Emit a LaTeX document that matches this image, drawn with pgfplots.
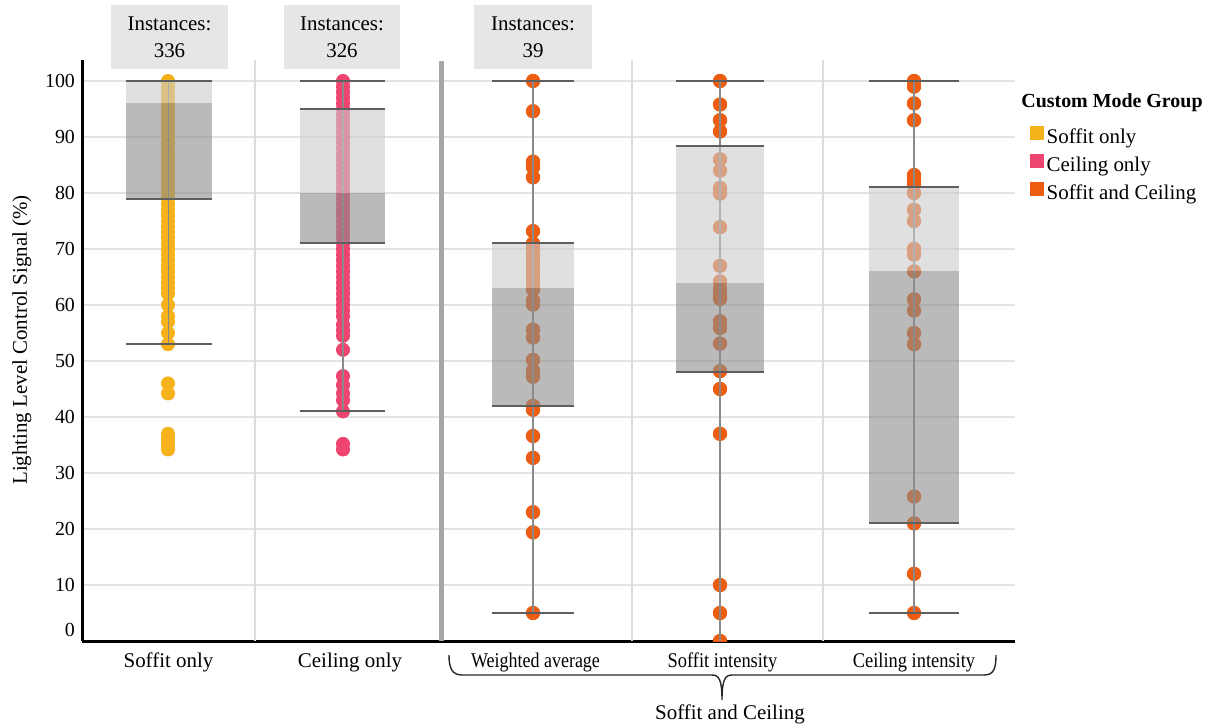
\documentclass[border=0pt]{standalone}
\usepackage{pgfplots}
\pgfplotsset{compat=1.18}
\usepackage{fontspec}
\setmainfont{Liberation Serif}
\usepackage{graphicx}
\definecolor{cSoffit}{HTML}{F5B21A}
\definecolor{cCeil}{HTML}{EE4470}
\definecolor{cBoth}{HTML}{EC5D12}
\definecolor{gridc}{HTML}{E3E3E3}
\definecolor{sepc}{HTML}{DCDCDC}
\definecolor{thicksep}{HTML}{AAA5A5}
\definecolor{instc}{HTML}{E6E6E6}
\definecolor{whisk}{HTML}{8A8A8A}
\definecolor{capc}{HTML}{5F5F5F}
\begin{document}
\begin{tikzpicture}
\begin{axis}[
  scale only axis, width=466.5bp, height=290.5bp,
  xmin=82, xmax=1015, ymin=0, ymax=103.75,
  axis x line*=bottom, axis y line*=left,
  axis line style={line width=1.5bp, black, -},
  xtick=\empty,
  ytick={10,20,...,100},
  extra y ticks={0},
  extra y tick style={grid=none, yticklabel style={yshift=5.5bp}},
  ymajorgrids, major grid style={gridc, line width=0.7bp},
  major tick length=0,
  tick label style={font=\fontsize{10}{12}\selectfont},
  /pgf/number format/assume math mode=true,
  clip marker paths=true,
  legend cell align=left,
  legend image code/.code={\fill[#1] (0bp,-0.75bp) rectangle (6.5bp,5.75bp);},
  legend style={at={(1.0155,0.888)}, anchor=north west, draw=none, fill=none,
    font=\fontsize{10.5}{12}\selectfont, row sep=1.2bp, inner sep=0pt,
    nodes={inner sep=1.5bp, text height=7.4bp, text depth=2.4bp}},
]
\addlegendimage{cSoffit}\addlegendentry{Soffit only}
\addlegendimage{cCeil}\addlegendentry{Ceiling only}
\addlegendimage{cBoth}\addlegendentry{Soffit and Ceiling}

% separators
\addplot[forget plot, sepc, line width=0.6bp] coordinates {(255,0) (255,103.75)};
\addplot[forget plot, sepc, line width=0.6bp] coordinates {(632,0) (632,103.75)};
\addplot[forget plot, sepc, line width=0.6bp] coordinates {(823,0) (823,103.75)};
\addplot[forget plot, thicksep, line width=2.2bp] coordinates {(441.5,0) (441.5,103.6)};

% points
\addplot[forget plot, only marks, mark=*, mark size=3.3bp, cSoffit] coordinates {
(168,100) (168,99) (168,98) (168,97) (168,96) (168,95) (168,94) (168,93) (168,92) (168,91)
(168,90) (168,89) (168,88) (168,87) (168,86) (168,85) (168,84) (168,83) (168,82) (168,81)
(168,80) (168,79) (168,78) (168,77) (168,76) (168,75) (168,74) (168,73) (168,72) (168,71)
(168,70) (168,69) (168,68) (168,67) (168,66) (168,65) (168,64) (168,63) (168,62)
(168,60) (168,58) (168,57) (168,55) (168,53) (168,46) (168,44.2) (168,37) (168,36) (168,35) (168,34.2)};
\addplot[forget plot, only marks, mark=*, mark size=3.3bp, cCeil] coordinates {
(343,100) (343,99) (343,98) (343,97) (343,96) (343,95) (343,94) (343,93) (343,92) (343,91)
(343,90) (343,89) (343,88) (343,87) (343,86) (343,85) (343,84) (343,83) (343,82) (343,81)
(343,80) (343,79) (343,78) (343,77) (343,76) (343,75) (343,74) (343,73) (343,72) (343,71)
(343,70) (343,69) (343,68) (343,67) (343,66) (343,65) (343,64) (343,63) (343,62) (343,61)
(343,60) (343,59) (343,58) (343,56.5) (343,55.5) (343,54.5) (343,52) (343,47.3) (343,45.7)
(343,44.2) (343,43) (343,41) (343,35.2) (343,34.2)};
\addplot[forget plot, only marks, mark=*, mark size=3.4bp, cBoth] coordinates {
(533,100) (533,94.6) (533,85.6) (533,84.6) (533,82.8) (533,73.2) (533,71) (533,70) (533,69)
(533,68) (533,67) (533,66) (533,65) (533,64) (533,62.8) (533,60.8) (533,60.1) (533,55.6)
(533,54.2) (533,50.2) (533,48.3) (533,47.2) (533,42) (533,41.3) (533,36.6) (533,32.7)
(533,23) (533,19.4) (533,5)};
\addplot[forget plot, only marks, mark=*, mark size=3.4bp, cBoth] coordinates {
(720,100) (720,95.8) (720,93) (720,91) (720,86) (720,84) (720,80.9) (720,79.9) (720,73.9)
(720,67) (720,64.2) (720,62.8) (720,61.8) (720,61.1) (720,57.1) (720,55.9) (720,53.1)
(720,48.2) (720,45) (720,37) (720,10) (720,5) (720,0)};
\addplot[forget plot, only marks, mark=*, mark size=3.4bp, cBoth] coordinates {
(914,100) (914,99) (914,96) (914,93) (914,83.2) (914,82.4) (914,81.6) (914,80) (914,77)
(914,75) (914,70) (914,69) (914,66) (914,61) (914,59) (914,55) (914,53) (914,25.8)
(914,21) (914,12) (914,5)};

% whiskers
\addplot[forget plot, whisk, line width=0.9bp] coordinates {(168.5,53) (168.5,100)};
\addplot[forget plot, whisk, line width=0.9bp] coordinates {(343,41) (343,100)};
\addplot[forget plot, whisk, line width=0.9bp] coordinates {(533,5) (533,100)};
\addplot[forget plot, whisk, line width=0.9bp] coordinates {(720,0) (720,100)};
\addplot[forget plot, whisk, line width=0.9bp] coordinates {(914,5) (914,100)};

% boxes: light (median to Q3), dark (Q1 to median)
\addplot[forget plot, draw=none, fill=black!20, fill opacity=0.6] coordinates {(126,96) (212,96) (212,100) (126,100)};
\addplot[forget plot, draw=none, fill=black!45, fill opacity=0.6] coordinates {(126,79) (212,79) (212,96) (126,96)};
\addplot[forget plot, draw=none, fill=black!20, fill opacity=0.6] coordinates {(300,80) (385,80) (385,95) (300,95)};
\addplot[forget plot, draw=none, fill=black!45, fill opacity=0.6] coordinates {(300,71) (385,71) (385,80) (300,80)};
\addplot[forget plot, draw=none, fill=black!20, fill opacity=0.6] coordinates {(492,63) (574,63) (574,71) (492,71)};
\addplot[forget plot, draw=none, fill=black!45, fill opacity=0.6] coordinates {(492,42) (574,42) (574,63) (492,63)};
\addplot[forget plot, draw=none, fill=black!20, fill opacity=0.6] coordinates {(676,64) (764,64) (764,88.4) (676,88.4)};
\addplot[forget plot, draw=none, fill=black!45, fill opacity=0.6] coordinates {(676,48) (764,48) (764,64) (676,64)};
\addplot[forget plot, draw=none, fill=black!20, fill opacity=0.6] coordinates {(869,66) (959,66) (959,81) (869,81)};
\addplot[forget plot, draw=none, fill=black!45, fill opacity=0.6] coordinates {(869,21) (959,21) (959,66) (869,66)};

% caps and box edges
\addplot[forget plot, capc, line width=1bp] coordinates {(126,100) (212,100)};
\addplot[forget plot, capc, line width=1bp] coordinates {(126,79) (212,79)};
\addplot[forget plot, capc, line width=1bp] coordinates {(126,53) (212,53)};
\addplot[forget plot, capc, line width=1bp] coordinates {(300,100) (385,100)};
\addplot[forget plot, capc, line width=1bp] coordinates {(300,95) (385,95)};
\addplot[forget plot, capc, line width=1bp] coordinates {(300,71) (385,71)};
\addplot[forget plot, capc, line width=1bp] coordinates {(300,41) (385,41)};
\addplot[forget plot, capc, line width=1bp] coordinates {(492,100) (574,100)};
\addplot[forget plot, capc, line width=1bp] coordinates {(492,71) (574,71)};
\addplot[forget plot, capc, line width=1bp] coordinates {(492,42) (574,42)};
\addplot[forget plot, capc, line width=1bp] coordinates {(492,5) (574,5)};
\addplot[forget plot, capc, line width=1bp] coordinates {(676,100) (764,100)};
\addplot[forget plot, capc, line width=1bp] coordinates {(676,88.4) (764,88.4)};
\addplot[forget plot, capc, line width=1bp] coordinates {(676,48) (764,48)};
\addplot[forget plot, capc, line width=1bp] coordinates {(869,100) (959,100)};
\addplot[forget plot, capc, line width=1bp] coordinates {(869,81) (959,81)};
\addplot[forget plot, capc, line width=1bp] coordinates {(869,21) (959,21)};
\addplot[forget plot, capc, line width=1bp] coordinates {(869,5) (959,5)};

\coordinate (O) at (axis cs:0,114.4643);
\end{axis}
\begin{scope}[shift={(O)}, x=0.5bp, y=-0.5bp]
  \tikzset{lab/.style={font=\fontsize{10.5}{12}\selectfont}}
  \node[fill=instc, minimum width=58.5bp, minimum height=32bp, inner sep=0pt, align=center,
        font=\fontsize{10.5}{13.5}\selectfont] at (169.5,37) {Instances:\\336};
  \node[fill=instc, minimum width=58bp, minimum height=32bp, inner sep=0pt, align=center,
        font=\fontsize{10.5}{13.5}\selectfont] at (342,37) {Instances:\\326};
  \node[fill=instc, minimum width=59bp, minimum height=32bp, inner sep=0pt, align=center,
        font=\fontsize{10.5}{13.5}\selectfont] at (533,37) {Instances:\\39};
  \node[lab] at (168.5,662) {Soffit only};
  \node[lab] at (350,662) {Ceiling only};
  \node[lab] at (535.5,662) {\scalebox{0.86}[1]{Weighted average}};
  \node[lab] at (722.5,662) {\scalebox{0.88}[1]{Soffit intensity}};
  \node[lab] at (914,662) {\scalebox{0.88}[1]{Ceiling intensity}};
  \draw[line width=0.7bp, black!85] (449,655) .. controls (449,668) and (452,675) .. (462,675)
     -- (712,675) .. controls (719,675) and (722,680) .. (722,700)
     .. controls (722,680) and (725,675) .. (732,675) -- (984,675)
     .. controls (994,675) and (996,668) .. (996,655);
  \node[lab] at (730,714) {Soffit and Ceiling};
  \node[lab, rotate=90] at (22,340) {Lighting Level Control Signal (\%)};
  \node[anchor=west, inner sep=0pt, font=\bfseries\fontsize{10}{12}\selectfont] at (1021,103) {Custom Mode Group};
  \pgfresetboundingbox
  \path[use as bounding box] (0,0) rectangle (1222,723);
\end{scope}
\end{tikzpicture}
\end{document}
